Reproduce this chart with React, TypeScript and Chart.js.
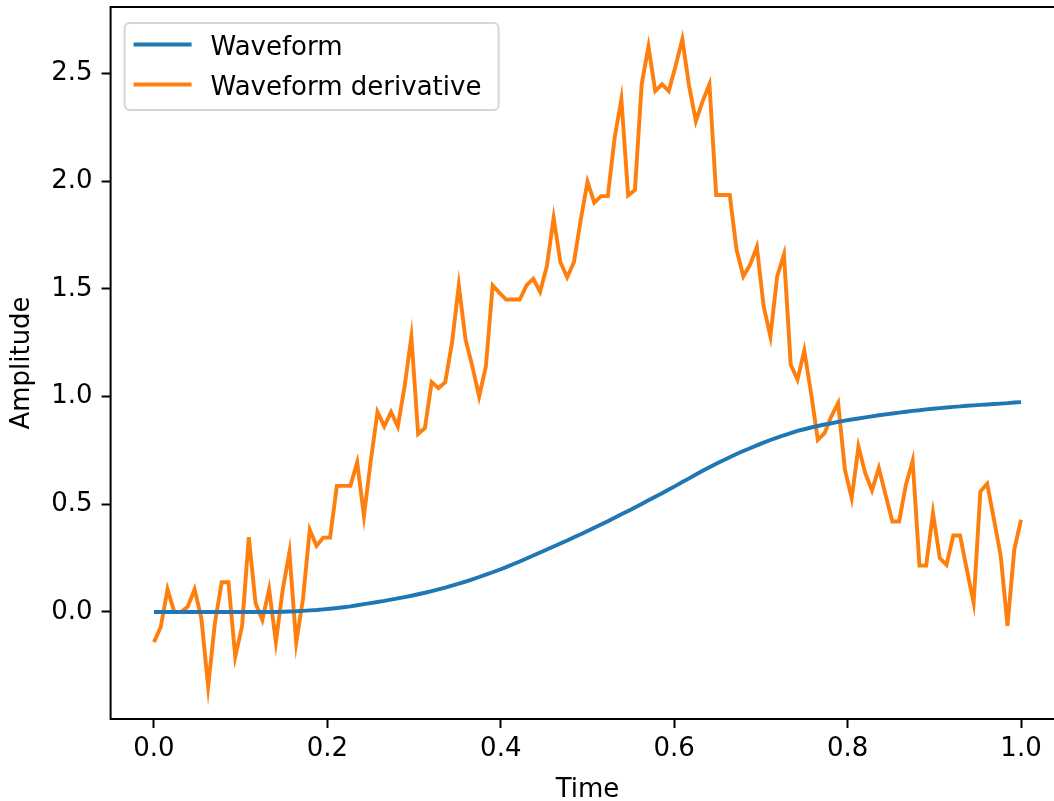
import React, { useEffect, useRef } from "react";
import { Chart, registerables } from "chart.js";

Chart.register(...registerables);

// Sampling grid: 129 evenly spaced instants on [0, 1]
const SAMPLE_COUNT = 129;
const TIME_START = 0;
const TIME_END = 1;
const TIME = Array.from(
  { length: SAMPLE_COUNT },
  (_, i) => TIME_START + ((TIME_END - TIME_START) * i) / (SAMPLE_COUNT - 1)
);

const SERIES_LABELS = ["Waveform", "Waveform derivative"];

const WAVEFORM = [
  0, 0, 0, 0, 0, 0, 0, 0, 0, 0,
  0, 0, 0, 0, 0, 0, 0, 0, 0, 0.001,
  0.002, 0.003, 0.005, 0.007, 0.009, 0.012, 0.015, 0.018, 0.022, 0.026,
  0.031, 0.036, 0.041, 0.046, 0.051, 0.057, 0.063, 0.069, 0.075, 0.082,
  0.089, 0.097, 0.105, 0.113, 0.122, 0.131, 0.141, 0.151, 0.162, 0.173,
  0.184, 0.196, 0.208, 0.221, 0.234, 0.248, 0.262, 0.276, 0.29, 0.304,
  0.318, 0.332, 0.347, 0.361, 0.376, 0.391, 0.406, 0.421, 0.437, 0.453,
  0.469, 0.485, 0.501, 0.518, 0.535, 0.551, 0.568, 0.585, 0.603, 0.62,
  0.638, 0.655, 0.672, 0.688, 0.703, 0.718, 0.733, 0.747, 0.76, 0.773,
  0.786, 0.798, 0.809, 0.82, 0.83, 0.84, 0.848, 0.856, 0.863, 0.87,
  0.876, 0.882, 0.888, 0.893, 0.898, 0.903, 0.908, 0.913, 0.917, 0.921,
  0.925, 0.929, 0.933, 0.936, 0.94, 0.943, 0.946, 0.949, 0.952, 0.954,
  0.957, 0.959, 0.961, 0.963, 0.965, 0.967, 0.969, 0.972, 0.974,
];

const DERIVATIVE = [
  -0.14, -0.07, 0.105, 0.0, 0.0, 0.025, 0.105, -0.03, -0.347, -0.05,
  0.138, 0.138, -0.208, -0.068, 0.347, 0.04, -0.037, 0.105, -0.14, 0.102,
  0.277, -0.143, 0.06, 0.381, 0.307, 0.345, 0.345, 0.585, 0.585, 0.585,
  0.694, 0.446, 0.7, 0.928, 0.861, 0.928, 0.861, 1.047, 1.276, 0.826,
  0.854, 1.067, 1.039, 1.066, 1.25, 1.516, 1.264, 1.14, 1.0, 1.14,
  1.516, 1.481, 1.45, 1.45, 1.45, 1.516, 1.547, 1.486, 1.605, 1.829,
  1.623, 1.553, 1.623, 1.82, 1.997, 1.9, 1.93, 1.93, 2.2, 2.38,
  1.933, 1.958, 2.449, 2.624, 2.418, 2.449, 2.418, 2.534, 2.658, 2.441,
  2.278, 2.371, 2.449, 1.935, 1.935, 1.935, 1.682, 1.558, 1.612, 1.694,
  1.419, 1.279, 1.558, 1.659, 1.148, 1.078, 1.213, 1.016, 0.799, 0.83,
  0.908, 0.97, 0.66, 0.528, 0.768, 0.644, 0.564, 0.668, 0.544, 0.42,
  0.42, 0.59, 0.702, 0.215, 0.215, 0.459, 0.25, 0.218, 0.355, 0.355,
  0.195, 0.043, 0.559, 0.595, 0.43, 0.26, -0.064, 0.288, 0.428,
];

const X_TICKS = [0, 0.2, 0.4, 0.6, 0.8, 1.0];
const Y_TICKS = [0, 0.5, 1.0, 1.5, 2.0, 2.5];

const X_RANGE = [-0.05, 1.05];
const Y_RANGE = [-0.497, 2.808];

const BLUE = "#1f77b4";
const ORANGE = "#ff7f0e";
const FONT_FAMILY = "'DejaVu Sans', sans-serif";
const FONT_SIZE = 26;
const LINE_WIDTH = 3.9;

const CANVAS_W = 1070;
const CANVAS_H = 801;
const AREA = { left: 110.6, right: 1064.4, top: 7, bottom: 719 };

// Full box around the plotting area, drawn over the lines like axis spines
const framePlugin = {
  id: "axesFrame",
  afterDatasetsDraw(chart: any) {
    const { ctx, chartArea } = chart;
    ctx.save();
    ctx.strokeStyle = "#000";
    ctx.lineWidth = 2;
    ctx.strokeRect(
      chartArea.left,
      chartArea.top,
      chartArea.right - chartArea.left,
      chartArea.bottom - chartArea.top
    );
    ctx.restore();
  },
};

// Legend box in the upper-left corner of the plotting area
const innerLegendPlugin = {
  id: "innerLegend",
  afterDraw(chart: any) {
    const { ctx, chartArea } = chart;
    const x0 = chartArea.left + 14;
    const y0 = chartArea.top + 16;
    const w = 374;
    const h = 87;
    const r = 5;
    ctx.save();
    ctx.beginPath();
    ctx.moveTo(x0 + r, y0);
    ctx.lineTo(x0 + w - r, y0);
    ctx.arcTo(x0 + w, y0, x0 + w, y0 + r, r);
    ctx.lineTo(x0 + w, y0 + h - r);
    ctx.arcTo(x0 + w, y0 + h, x0 + w - r, y0 + h, r);
    ctx.lineTo(x0 + r, y0 + h);
    ctx.arcTo(x0, y0 + h, x0, y0 + h - r, r);
    ctx.lineTo(x0, y0 + r);
    ctx.arcTo(x0, y0, x0 + r, y0, r);
    ctx.closePath();
    ctx.fillStyle = "rgba(255,255,255,0.8)";
    ctx.fill();
    ctx.strokeStyle = "rgba(204,204,204,0.8)";
    ctx.lineWidth = 2;
    ctx.stroke();

    ctx.font = `${FONT_SIZE}px ${FONT_FAMILY}`;
    ctx.textBaseline = "middle";
    ctx.textAlign = "left";
    chart.data.datasets.forEach((ds: any, k: number) => {
      const cy = y0 + 21.5 + k * 40;
      ctx.beginPath();
      ctx.moveTo(x0 + 9, cy);
      ctx.lineTo(x0 + 67, cy);
      ctx.strokeStyle = ds.borderColor;
      ctx.lineWidth = LINE_WIDTH;
      ctx.stroke();
      ctx.fillStyle = "#000";
      ctx.fillText(ds.label, x0 + 86, cy + 4);
    });
    ctx.restore();
  },
};

export default function App() {
  const canvasRef = useRef<HTMLCanvasElement | null>(null);

  useEffect(() => {
    document.body.style.margin = "0";
    const canvas = canvasRef.current;
    if (!canvas) return;

    const tickFont = { family: FONT_FAMILY, size: FONT_SIZE };

    const chart = new Chart(canvas, {
      type: "line",
      data: {
        datasets: [
          {
            label: SERIES_LABELS[0],
            data: TIME.map((t, i) => ({ x: t, y: WAVEFORM[i] })),
            borderColor: BLUE,
            backgroundColor: BLUE,
            borderWidth: LINE_WIDTH,
            pointRadius: 0,
            tension: 0,
            fill: false,
          },
          {
            label: SERIES_LABELS[1],
            data: TIME.map((t, i) => ({ x: t, y: DERIVATIVE[i] })),
            borderColor: ORANGE,
            backgroundColor: ORANGE,
            borderWidth: LINE_WIDTH,
            pointRadius: 0,
            tension: 0,
            fill: false,
          },
        ],
      },
      options: {
        animation: false,
        responsive: false,
        devicePixelRatio: 1,
        layout: {
          padding: { left: 0, top: AREA.top, right: CANVAS_W - AREA.right, bottom: 0 },
        },
        plugins: {
          legend: { display: false },
          tooltip: { enabled: false },
        },
        scales: {
          x: {
            type: "linear",
            position: "bottom",
            min: X_RANGE[0],
            max: X_RANGE[1],
            afterBuildTicks: (scale: any) => {
              scale.ticks = X_TICKS.map((v) => ({ value: v }));
            },
            afterFit: (scale: any) => {
              scale.height = CANVAS_H - AREA.bottom;
              scale.paddingLeft = 0;
              scale.paddingRight = 0;
              scale.paddingTop = 0;
              scale.paddingBottom = 0;
            },
            ticks: {
              autoSkip: false,
              maxRotation: 0,
              padding: 6,
              color: "#000",
              font: tickFont,
              callback: (v: any) => Number(v).toFixed(1),
            },
            grid: {
              display: true,
              drawOnChartArea: false,
              drawTicks: true,
              tickLength: 9,
              tickWidth: 2,
              tickColor: "#000",
            },
            border: { display: false },
            title: {
              display: true,
              text: "Time",
              color: "#000",
              font: tickFont,
              padding: { top: 0, bottom: -5 },
            },
          },
          y: {
            type: "linear",
            min: Y_RANGE[0],
            max: Y_RANGE[1],
            afterBuildTicks: (scale: any) => {
              scale.ticks = Y_TICKS.map((v) => ({ value: v }));
            },
            afterFit: (scale: any) => {
              scale.width = AREA.left;
              scale.paddingLeft = 0;
              scale.paddingRight = 0;
              scale.paddingTop = 0;
              scale.paddingBottom = 0;
            },
            ticks: {
              autoSkip: false,
              padding: 9,
              color: "#000",
              font: tickFont,
              callback: (v: any) => Number(v).toFixed(1),
            },
            grid: {
              display: true,
              drawOnChartArea: false,
              drawTicks: true,
              tickLength: 9,
              tickWidth: 2,
              tickColor: "#000",
            },
            border: { display: false },
            title: {
              display: true,
              text: "Amplitude",
              color: "#000",
              font: tickFont,
              padding: { top: 7, bottom: 0 },
            },
          },
        },
      },
      plugins: [framePlugin, innerLegendPlugin],
    } as any);

    return () => {
      chart.destroy();
    };
  }, []);

  return (
    <div
      style={{
        position: "fixed",
        left: 0,
        top: 0,
        width: 1054,
        height: 801,
        overflow: "hidden",
        background: "#fff",
      }}
    >
      <canvas
        ref={canvasRef}
        width={CANVAS_W}
        height={CANVAS_H}
        style={{ width: CANVAS_W, height: CANVAS_H, display: "block" }}
      />
    </div>
  );
}
